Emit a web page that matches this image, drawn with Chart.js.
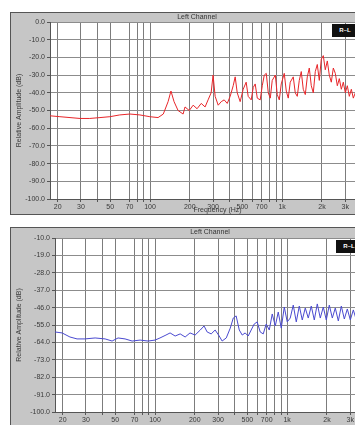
<!DOCTYPE html>
<html>
<head>
<meta charset="utf-8">
<script src="https://cdn.jsdelivr.net/npm/chart.js@4.4.0/dist/chart.umd.min.js"></script>
<style>
    html, body { margin: 0; padding: 0; width: 355px; height: 425px; overflow: hidden; background: #fff; }
    .panel { position: absolute; background: #c6c6c6; border: 1px solid #555; }
    .panel canvas { position: absolute; left: 0; top: 0; }
    .title { position: absolute; font: 7px "Liberation Sans", sans-serif; color: #333; white-space: nowrap; transform: translateX(-50%); }
    .key { position: absolute; background: #111; color: #fff; font: bold 6px "Liberation Sans", sans-serif; line-height: 12px; text-align: center; }
</style>
</head>
<body>
<div class="panel" id="panelTop" style="left:10px; top:12px; width:380px; height:201px;">
    <canvas id="chartTop" width="380" height="201"></canvas>
</div>
<div class="title" style="left:197px; top:13px;">Left Channel</div>
<div class="key" style="left:332px; top:24px; width:26px; height:13px;">R~L</div>

<div class="panel" id="panelBottom" style="left:10px; top:227px; width:385px; height:205px;">
    <canvas id="chartBottom" width="385" height="205"></canvas>
</div>
<div class="title" style="left:210px; top:228px;">Left Channel</div>
<div class="key" style="left:336px; top:240px; width:26px; height:13px;">R~L</div>

<script>
// Frequency axis (Hz)
const freqMin = 17.5
const freqMax = 6000
const xGridTicks = [20, 30, 40, 50, 70, 80, 90, 100, 200, 300, 400, 500, 600, 700, 800, 900, 1000, 2000, 3000, 4000, 5000]
const xLabelTicks = [20, 30, 50, 70, 100, 200, 300, 500, 700, 1000, 2000, 3000, 5000]
const xLabelText = ['20', '30', '50', '70', '100', '200', '300', '500', '700', '1k', '2k', '3k', '5k']

// Amplitude axis ticks (dB)
const yTicksTop = [0, -10, -20, -30, -40, -50, -60, -70, -80, -90, -100]
const yTicksBottom = [-10, -19, -28, -37, -46, -55, -64, -73, -82, -91, -100]

// Top trace (red)
const freqTop = [17.5, 20.8, 24.8, 29.5, 35, 41.8, 49.7, 59, 70.4, 83.8, 99.7, 115, 126, 137, 144, 152, 163, 178,
    184, 198, 212, 227, 244, 261, 275, 290, 300, 311, 328, 346, 364, 384, 404, 426, 441, 457, 481, 507, 534, 553,
    583, 604, 625, 648, 682, 707, 732, 758, 785, 813, 841, 887, 918, 951, 984, 1037, 1074, 1112, 1151, 1213, 1256,
    1301, 1347, 1395, 1444, 1496, 1549, 1604, 1661, 1720, 1781, 1844, 1910, 1977, 2048, 2120, 2196, 2273, 2354,
    2438, 2524, 2614, 2707, 2803, 2902, 3005, 3112, 3222, 3337, 3455, 3578, 3770, 4043, 4335, 4648, 5072, 5534]
const dbTop = [-53, -53.5, -54, -54.5, -54.5, -54, -53.5, -52.5, -52, -52.5, -53.5, -54, -52, -45, -39, -45, -50, -52,
    -48, -50, -47, -49, -46, -48, -44, -40, -30, -42, -47, -45, -44, -46, -42, -36, -31, -40, -45, -38, -34, -42,
    -44, -37, -35, -43, -44, -36, -30, -29, -40, -43, -33, -30, -41, -44, -35, -29, -39, -43, -34, -31, -40,
    -42, -33, -28, -38, -41, -31, -26, -36, -40, -28, -24, -33, -21, -19, -27, -22, -30, -34,
    -26, -29, -36, -32, -38, -34, -40, -36, -42, -38, -43, -40, -44, -41, -46, -43, -47, -45]

// Bottom trace (blue)
const freqBottom = [17.5, 19.8, 22.7, 25.7, 29.5, 35.2, 41.9, 47.3, 52.5, 59.3, 67.1, 77.1, 88.6, 100, 109, 121,
    130, 142, 155, 169, 184, 201, 220, 235, 248, 266, 285, 306, 322, 346, 371, 391, 411, 434, 457, 481, 507, 534,
    563, 593, 625, 659, 694, 732, 771, 813, 856, 902, 951, 1001, 1055, 1112, 1172, 1235, 1301, 1371, 1444, 1522,
    1604, 1690, 1781, 1876, 1977, 2084, 2196, 2313, 2438, 2569, 2707, 2852, 3005, 3167, 3337, 3578, 3905, 4260,
    4648, 5072]
const dbBottom = [-58.6, -59.1, -61.2, -62.2, -62.2, -61.7, -62.2, -63.3, -61.7, -62.2, -63.3, -62.8, -63.3, -62.8,
    -61.7, -60.2, -59.1, -60.7, -59.6, -61.2, -59.1, -60.2, -57.6, -55.5, -58.6, -59.6, -57.6, -60.7, -63.3, -61.7,
    -56.6, -51.4, -50.3, -57.6, -60.2, -59.1, -60.7, -57.6, -54.5, -53.4, -58.6, -59.6, -54.5, -57.6, -49.3, -55.5,
    -48.3, -56.6, -45.7, -53.4, -51.4, -44.7, -53.4, -45.2, -52.4, -46.2, -51.4, -45.2, -52.4, -44.1, -51.4, -45.7,
    -52.4, -44.7, -51.4, -46.2, -52.9, -45.2, -51.9, -46.7, -52.4, -47.2, -52.4, -48.3, -52.4, -49.3, -53.4, -50.3]

const textColor = '#3a3a3a'
const smallFont = { family: 'Liberation Sans', size: 7 }

// Paint the plot area white on top of the grey panel
const plotBackground = {
    id: 'plotBackground',
    beforeDraw(chart) {
        const a = chart.chartArea
        chart.ctx.save()
        chart.ctx.fillStyle = '#ffffff'
        chart.ctx.fillRect(a.left, a.top, a.right - a.left, a.bottom - a.top)
        chart.ctx.restore()
    }
}

function makeChart(canvasId, freqs, values, color, yTicks, yAxisWidth, xAxisHeight, padTop) {
    const points = freqs.map((f, i) => ({ x: f, y: values[i] }))
    const allX = xGridTicks.concat(xLabelTicks.filter(v => !xGridTicks.includes(v))).sort((a, b) => a - b)

    return new Chart(document.getElementById(canvasId), {
        type: 'line',
        data: {
            datasets: [{
                data: points,
                borderColor: color,
                borderWidth: 1,
                pointRadius: 0,
                tension: 0
            }]
        },
        options: {
            responsive: false,
            animation: false,
            layout: { padding: { top: padTop, right: 6, left: 0, bottom: 0 } },
            plugins: { legend: { display: false }, tooltip: { enabled: false } },
            scales: {
                x: {
                    type: 'logarithmic',
                    min: freqMin,
                    max: freqMax,
                    afterBuildTicks: (scale) => { scale.ticks = allX.map(v => ({ value: v })) },
                    afterFit: (scale) => { scale.height = xAxisHeight },
                    grid: {
                        color: (ctx) => xGridTicks.includes(ctx.tick && ctx.tick.value) ? '#7c7c7c' : 'rgba(0,0,0,0)',
                        tickLength: 3,
                        tickColor: '#555'
                    },
                    border: { color: '#555' },
                    ticks: {
                        autoSkip: false,
                        maxRotation: 0,
                        padding: 1,
                        color: textColor,
                        font: smallFont,
                        callback: (v) => {
                            const i = xLabelTicks.indexOf(v)
                            return i >= 0 ? xLabelText[i] : ''
                        }
                    },
                    title: { display: true, text: 'Frequency (Hz)', color: textColor, font: smallFont, padding: 0 }
                },
                y: {
                    min: Math.min(...yTicks),
                    max: Math.max(...yTicks),
                    afterBuildTicks: (scale) => { scale.ticks = yTicks.map(v => ({ value: v })) },
                    afterFit: (scale) => { scale.width = yAxisWidth },
                    grid: { color: '#8c8c8c', tickLength: 3, tickColor: '#555' },
                    border: { color: '#555' },
                    ticks: {
                        autoSkip: false,
                        padding: 2,
                        color: textColor,
                        font: smallFont,
                        callback: (v) => v.toFixed(1)
                    },
                    title: { display: true, text: 'Relative Amplitude (dB)', color: textColor, font: smallFont, padding: 4 }
                }
            }
        },
        plugins: [plotBackground]
    })
}

document.addEventListener('DOMContentLoaded', function() {
    makeChart('chartTop', freqTop, dbTop, '#e8262a', yTicksTop, 39, 15, 9)
    makeChart('chartBottom', freqBottom, dbBottom, '#4a4ad0', yTicksBottom, 44, 21, 10)
})
</script>
</body>
</html>
